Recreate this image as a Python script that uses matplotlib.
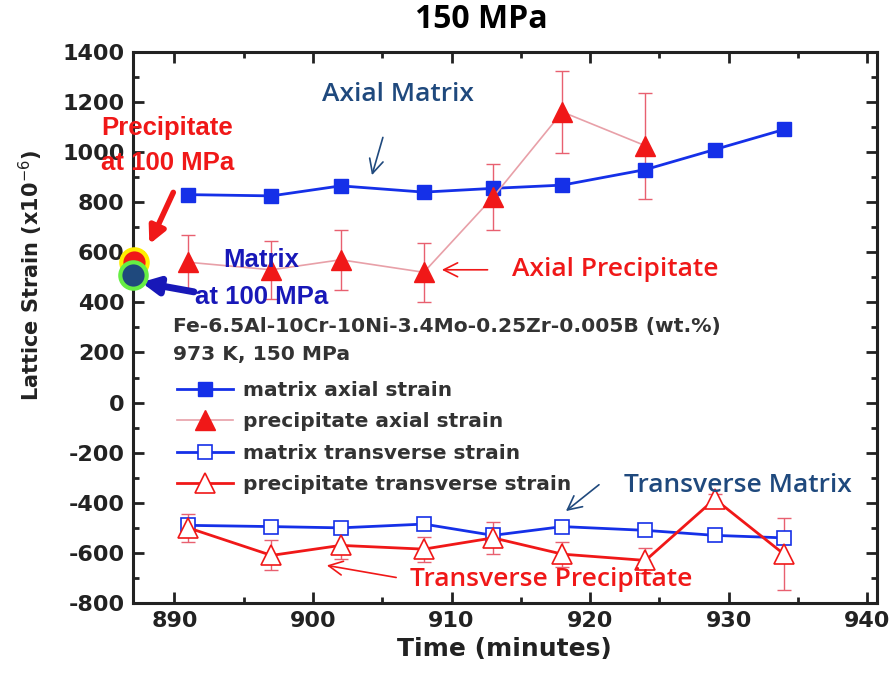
import matplotlib
matplotlib.use("Agg")
import matplotlib.pyplot as plt
from matplotlib.ticker import MultipleLocator

plt.rcParams["axes.unicode_minus"] = False

# time points (minutes)
t = [891, 897, 902, 908, 913, 918, 924, 929, 934]
t_pa = [891, 897, 902, 908, 913, 918, 924]

# lattice strain (x1e-6)
matrix_axial = [830, 825, 865, 840, 855, 868, 930, 1010, 1090]
precip_axial = [560, 530, 570, 520, 820, 1160, 1025]
precip_axial_err = [110, 115, 120, 118, 133, 165, 212]
matrix_trans = [-490, -495, -500, -485, -530, -495, -510, -530, -540]
matrix_trans_err = [15, 15, 15, 15, 15, 15, 12, 12, 12]
precip_trans = [-500, -610, -570, -585, -540, -605, -630, -385, -605]
precip_trans_err = [55, 60, 55, 50, 65, 50, 50, 20, 145]

# strain measured at 100 MPa (marked at the left edge)
t_100 = [887.1, 887.0]
strain_100 = [562, 510]

BLUE = "#1530e8"
RED = "#f01818"
PINK = "#e8a0a8"
ERR = "#e86070"
NAVY = "#1F497D"
DBLUE = "#1818b8"

fig = plt.figure(figsize=(8.92, 6.73), dpi=100)
ax = fig.add_axes([0.149, 0.104, 0.834, 0.819])

ax.errorbar(t_pa, precip_axial, yerr=precip_axial_err, fmt="none",
            ecolor=ERR, elinewidth=1, capsize=5, capthick=1)
ax.errorbar(t, precip_trans, yerr=precip_trans_err, fmt="none",
            ecolor=ERR, elinewidth=1, capsize=5, capthick=1)
ax.errorbar(t, matrix_trans, yerr=matrix_trans_err, fmt="none",
            ecolor=BLUE, elinewidth=1, capsize=4, capthick=1)

l1, = ax.plot(t, matrix_axial, "-s", color=BLUE, lw=2, ms=10,
              mfc=BLUE, mec=BLUE)
l2, = ax.plot(t_pa, precip_axial, "-", color=PINK, lw=1.2)
m2, = ax.plot(t_pa, precip_axial, "^", ms=14, mfc=RED, mec=RED)
l3, = ax.plot(t, matrix_trans, "-s", color=BLUE, lw=2, ms=10,
              mfc="white", mec=BLUE, mew=1.2)
l4, = ax.plot(t, precip_trans, "-^", color=RED, lw=2, ms=14,
              mfc="white", mec=RED, mew=1.2)

# 100 MPa reference points
ax.plot(t_100[0], strain_100[0], "o", ms=19, mfc=RED, mec="#ffee00",
        mew=3, clip_on=False, zorder=10)
ax.plot(t_100[1], strain_100[1], "o", ms=19, mfc=NAVY, mec="#66ee44",
        mew=3, clip_on=False, zorder=11)

ax.set_xlim(887, 940.7)
ax.set_ylim(-800, 1400)
ax.xaxis.set_major_locator(MultipleLocator(10))
ax.xaxis.set_minor_locator(MultipleLocator(5))
ax.yaxis.set_major_locator(MultipleLocator(200))
ax.yaxis.set_minor_locator(MultipleLocator(100))
ax.tick_params(which="both", direction="in", top=True, right=True, width=2,
               colors="#222222")
ax.tick_params(which="major", length=8, labelsize=16, pad=6)
ax.tick_params(which="minor", length=4)
for lab in ax.get_xticklabels() + ax.get_yticklabels():
    lab.set_fontweight("bold")
for s in ax.spines.values():
    s.set_linewidth(2.2)
    s.set_color("#222222")

ax.set_xlabel("Time (minutes)", fontsize=18, fontweight="bold", color="#222222")
ax.set_ylabel("Lattice Strain (x10$^{-6}$)", fontsize=15, fontweight="bold",
              color="#222222")
ax.yaxis.set_label_coords(-0.118, 0.595)

fig.suptitle("150 MPa", x=0.54, y=0.995, fontsize=23, fontweight="bold",
             family="Open Sans")

leg = ax.legend([l1, (l2, m2), l3, l4],
                ["matrix axial strain", "precipitate axial strain",
                 "matrix transverse strain", "precipitate transverse strain"],
                loc="upper left", bbox_to_anchor=(0.035, 0.436), frameon=False,
                handlelength=2.8, handletextpad=0.45, labelspacing=0.62,
                prop={"weight": "bold", "size": 14.5})
for txt in leg.get_texts():
    txt.set_color("#333333")

ax.text(889.9, 302, "Fe-6.5Al-10Cr-10Ni-3.4Mo-0.25Zr-0.005B (wt.%)",
        fontsize=14.6, fontweight="bold", color="#333333", va="center")
ax.text(889.9, 190, "973 K, 150 MPa", fontsize=14.6, fontweight="bold",
        color="#333333", va="center")

# callouts
cal = dict(family="Open Sans", fontsize=19, fontweight="semibold")
narrow = dict(family="Liberation Sans", fontweight="bold", fontsize=18.5,
              ha="center", va="center", clip_on=False)

ax.text(906.1, 1228, "Axial Matrix", color=NAVY, ha="center", va="center", **cal)
ax.annotate("", xy=(904.2, 897), xytext=(905.1, 1069),
            arrowprops=dict(arrowstyle="->", color=NAVY, lw=1.2,
                            mutation_scale=25))

ax.text(889.5, 1097, "Precipitate", color=RED, **narrow)
ax.text(889.5, 957, "at 100 MPa", color=RED, **narrow)
ax.annotate("", xy=(888.1, 622), xytext=(890.0, 849),
            arrowprops=dict(arrowstyle="-|>", color=RED, lw=4,
                            mutation_scale=25), annotation_clip=False)

ax.text(896.3, 570, "Matrix", color=DBLUE, **narrow)
ax.text(896.3, 422, "at 100 MPa", color=DBLUE, **narrow)
ax.annotate("", xy=(887.4, 482), xytext=(891.6, 440),
            arrowprops=dict(arrowstyle="-|>", color=DBLUE, lw=5,
                            mutation_scale=25), annotation_clip=False)

ax.text(921.8, 530, "Axial Precipitate", color=RED, ha="center",
        va="center", **cal)
ax.annotate("", xy=(909.1, 530), xytext=(912.8, 530),
            arrowprops=dict(arrowstyle="->", color=RED, lw=1.2,
                            mutation_scale=25))

ax.text(930.7, -329, "Transverse Matrix", color=NAVY, ha="center",
        va="center", **cal)
ax.annotate("", xy=(918.1, -440), xytext=(920.8, -321),
            arrowprops=dict(arrowstyle="->", color=NAVY, lw=1.2,
                            mutation_scale=25))

ax.text(917.2, -708, "Transverse Precipitate", color=RED, ha="center",
        va="center", **cal)
ax.annotate("", xy=(900.8, -648), xytext=(906.2, -700),
            arrowprops=dict(arrowstyle="->", color=RED, lw=1.2,
                            mutation_scale=25))

fig.savefig("out.png", dpi=100)
